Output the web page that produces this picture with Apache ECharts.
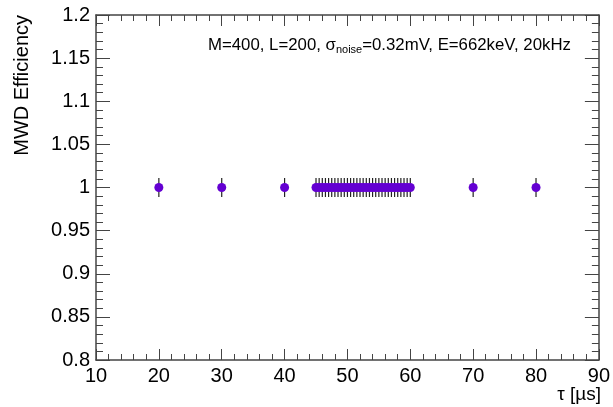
<!DOCTYPE html>
<html>
<head>
<meta charset="utf-8">
<script src="https://cdn.jsdelivr.net/npm/echarts@6/dist/echarts.min.js"></script>
<style>
  html, body { margin: 0; padding: 0; background: #fff; }
  #chart { width: 613px; height: 407px; }
</style>
</head>
<body>
<div id="chart"></div>
<script>
// Shaping time scan points (µs) and measured MWD efficiency
const tauValues = [20, 30, 40,
  45, 45.5, 46, 46.5, 47, 47.5, 48, 48.5, 49, 49.5,
  50, 50.5, 51, 51.5, 52, 52.5, 53, 53.5, 54, 54.5,
  55, 55.5, 56, 56.5, 57, 57.5, 58, 58.5, 59, 59.5, 60,
  70, 80];
const efficiencyValues = [1, 1, 1,
  1, 1, 1, 1, 1, 1, 1, 1, 1, 1,
  1, 1, 1, 1, 1, 1, 1, 1, 1, 1,
  1, 1, 1, 1, 1, 1, 1, 1, 1, 1, 1,
  1, 1];
const efficiencyErrors = [0.011, 0.011, 0.011,
  0.011, 0.011, 0.011, 0.011, 0.011, 0.011, 0.011, 0.011, 0.011, 0.011,
  0.011, 0.011, 0.011, 0.011, 0.011, 0.011, 0.011, 0.011, 0.011, 0.011,
  0.011, 0.011, 0.011, 0.011, 0.011, 0.011, 0.011, 0.011, 0.011, 0.011, 0.011,
  0.011, 0.011];
const xTickLabels = ['10', '20', '30', '40', '50', '60', '70', '80', '90'];
const yTickLabels = ['0.8', '0.85', '0.9', '0.95', '1', '1.05', '1.1', '1.15', '1.2'];

const points = tauValues.map((t, i) => [t, efficiencyValues[i], efficiencyErrors[i]]);

const FONT = '"Liberation Sans", Arial, Helvetica, sans-serif';
const AXIS_COLOR = '#444444';
const MARKER_COLOR = '#6400d2';

const chart = echarts.init(document.getElementById('chart'));

// Frame axes: ticks point inward on all four sides, labels only bottom/left
function makeAxis(range, position, majorLen, minorLen, showLabel, labelMap) {
  return {
    type: 'value',
    min: range[0], max: range[1], interval: range[2],
    position: position,
    axisLine: { show: true, onZero: false, lineStyle: { color: AXIS_COLOR, width: 1.5 } },
    axisTick: { show: true, inside: true, length: majorLen, lineStyle: { color: AXIS_COLOR, width: 1 } },
    minorTick: { show: true, splitNumber: 5, length: minorLen, lineStyle: { color: AXIS_COLOR, width: 1 } },
    splitLine: { show: false },
    axisLabel: {
      show: showLabel, margin: 6, color: '#000', fontFamily: FONT, fontSize: 20,
      formatter: v => labelMap[Math.round((v - range[0]) / range[2])]
    }
  };
}

const xRange = [10, 90, 10];
const yRange = [0.8, 1.2, 0.05];

chart.setOption({
  animation: false,
  backgroundColor: '#ffffff',
  grid: { left: 96, right: 11, top: 15, bottom: 47 },
  xAxis: [
    makeAxis(xRange, 'bottom', 11, 6, true, xTickLabels),
    makeAxis(xRange, 'top', 11, 6, false, xTickLabels)
  ],
  yAxis: [
    makeAxis(yRange, 'left', 14, 7, true, yTickLabels),
    makeAxis(yRange, 'right', 14, 7, false, yTickLabels)
  ],
  series: [
    {
      type: 'custom',
      name: 'errors',
      xAxisIndex: 0,
      yAxisIndex: 0,
      data: points,
      z: 2,
      renderItem: function (params, api) {
        const x = api.value(0), y = api.value(1), e = api.value(2);
        const lo = api.coord([x, y - e]);
        const hi = api.coord([x, y + e]);
        return {
          type: 'line',
          shape: { x1: lo[0], y1: lo[1], x2: hi[0], y2: hi[1] },
          style: { stroke: '#222', lineWidth: 1.2 }
        };
      }
    },
    {
      type: 'scatter',
      name: 'efficiency',
      xAxisIndex: 0,
      yAxisIndex: 0,
      data: points,
      symbol: 'circle',
      symbolSize: 9,
      z: 3,
      itemStyle: { color: MARKER_COLOR, opacity: 1 }
    }
  ],
  graphic: [
    {
      type: 'text',
      x: 22, y: 15,
      rotation: Math.PI / 2,
      style: {
        text: 'MWD Efficiency',
        font: '20px ' + FONT,
        fill: '#000',
        align: 'right',
        verticalAlign: 'middle'
      }
    },
    {
      type: 'text',
      x: 601, y: 395,
      style: {
        text: 'τ [µs]',
        font: '19px ' + FONT,
        fill: '#000',
        align: 'right',
        verticalAlign: 'middle'
      }
    },
    {
      type: 'text',
      x: 208, y: 45,
      style: {
        text: '{t|M=400, L=200, σ}{s|noise}{t|=0.32mV, E=662keV, 20kHz}',
        fill: '#000',
        verticalAlign: 'middle',
        rich: {
          t: { font: '16.8px ' + FONT, fill: '#000', verticalAlign: 'middle' },
          s: { font: '11px ' + FONT, fill: '#000', padding: [9, 0, 0, 0], verticalAlign: 'middle' }
        }
      }
    }
  ]
});
</script>
</body>
</html>
